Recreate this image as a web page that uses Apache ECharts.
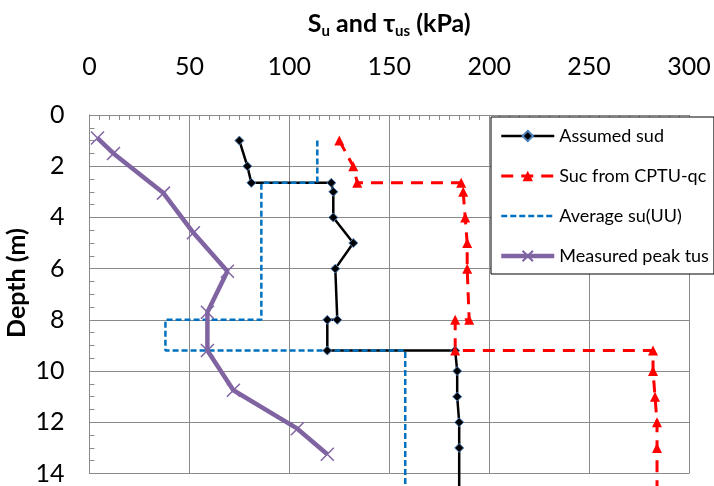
<!DOCTYPE html>
<html><head><meta charset="utf-8">
<script src="https://cdn.jsdelivr.net/npm/echarts@6/dist/echarts.min.js"></script>
<style>html,body{margin:0;padding:0;background:#fff}#c{width:714px;height:486px}</style>
</head><body><div id="c"></div>
<script>
// ---- data ----
const seriesNames = ['Assumed sud', 'Suc from CPTU-qc', 'Average su(UU)', 'Measured peak tus'];
const xTicks = [0, 50, 100, 150, 200, 250, 300];
const yTicks = [0, 2, 4, 6, 8, 10, 12, 14];

const assumedDepth = [1, 2, 2.65, 2.65, 3, 4, 5, 6, 8, 8, 9.2, 9.2, 10, 11, 12, 13, 14.8];
const assumedSu    = [75, 79, 81, 121, 122, 122, 132, 123, 124, 119, 119, 183, 184, 184, 185, 185, 185];

const sucDepth = [1, 2, 2.65, 2.65, 3, 4, 5, 6, 8, 8, 9.2, 9.2, 10, 11, 12, 13, 14.8];
const sucVal   = [125, 132, 134, 186, 187, 188, 189, 189, 190, 183, 183, 282, 282, 283, 284, 284, 284];

const avgDepth = [1, 2.65, 2.65, 8, 8, 9.2, 9.2, 14.8];
const avgVal   = [114, 114, 86, 86, 38, 38, 158, 158];

const measDepth = [0.9, 1.5, 3.05, 4.6, 6.1, 7.7, 9.2, 10.75, 12.25, 13.25];
const measVal   = [4, 12, 37, 52, 69, 59, 59, 72, 104, 119];

// ---- chart ----
const F = 'Lato';
const gray = '#8a8a8a';
const pair = (xs, ys) => xs.map((v, i) => [v, ys[i]]);
const chart = echarts.init(document.getElementById('c'), null, {renderer: 'canvas'});
const xPath = 'path://M0,0L10,10M10,0L0,10';

chart.setOption({
  animation: false,
  backgroundColor: '#fff',
  grid: {left: 89.5, right: 25, top: 115, bottom: 12},
  xAxis: {
    type: 'value', position: 'top',
    min: xTicks[0], max: xTicks[xTicks.length - 1], interval: xTicks[1] - xTicks[0],
    name: '{m|S}{s|u}{m| and τ}{s|us}{m| (kPa)}',
    nameLocation: 'middle', nameGap: 76,
    nameTextStyle: {
      rich: {
        m: {fontFamily: F, fontSize: 25, fontWeight: 'bold', color: '#000', lineHeight: 30},
        s: {fontFamily: F, fontSize: 15, fontWeight: 'bold', color: '#000', lineHeight: 14, verticalAlign: 'bottom'}
      }
    },
    axisLine: {show: true, onZero: false, lineStyle: {color: gray, width: 1}},
    axisTick: {show: true, inside: true, length: 5, lineStyle: {color: gray}},
    minorTick: {show: true, splitNumber: 10, length: 5, lineStyle: {color: gray}},
    splitLine: {show: true, lineStyle: {color: gray, width: 1}},
    axisLabel: {fontFamily: F, fontSize: 25, color: '#000', margin: 36}
  },
  yAxis: {
    type: 'value', inverse: true,
    min: yTicks[0], max: yTicks[yTicks.length - 1], interval: yTicks[1] - yTicks[0],
    axisLine: {show: true, onZero: false, lineStyle: {color: gray, width: 1}},
    axisTick: {show: true, inside: true, length: 5, lineStyle: {color: gray}},
    minorTick: {show: true, splitNumber: 4, length: 5, lineStyle: {color: gray}},
    splitLine: {show: true, lineStyle: {color: gray, width: 1}},
    axisLabel: {fontFamily: F, fontSize: 25, color: '#000', margin: 25}
  },
  graphic: [{
    type: 'text', x: 16.5, y: 283, rotation: Math.PI / 2,
    style: {text: 'Depth (m)', font: 'bold 25px Lato', fill: '#000', align: 'center', verticalAlign: 'middle'}
  }],
  legend: {
    orient: 'vertical', left: 491, top: 117,
    padding: [9, 5, 8, 8], itemGap: 20, itemWidth: 53, itemHeight: 13,
    backgroundColor: '#fff', borderColor: '#000', borderWidth: 1,
    textStyle: {fontFamily: F, fontSize: 18, color: '#000', lineHeight: 20},
    data: [
      {name: seriesNames[0], lineStyle: {width: 2.5}},
      {name: seriesNames[1], lineStyle: {width: 3}},
      {name: seriesNames[2], lineStyle: {width: 2.5}, itemStyle: {opacity: 0}},
      {name: seriesNames[3], lineStyle: {width: 4.5}}
    ]
  },
  series: [
    {
      name: seriesNames[0], type: 'line', clip: false, data: pair(assumedSu, assumedDepth),
      symbol: 'diamond', symbolSize: 9,
      lineStyle: {color: '#000', width: 2.5},
      itemStyle: {color: '#000', borderColor: '#4F81BD', borderWidth: 1}
    },
    {
      name: seriesNames[1], type: 'line', clip: false, data: pair(sucVal, sucDepth),
      symbol: 'triangle', symbolSize: 10,
      lineStyle: {color: '#FF0000', width: 3, type: [12, 8]},
      itemStyle: {color: '#FF0000'}
    },
    {
      name: seriesNames[2], type: 'line', clip: false, data: pair(avgVal, avgDepth),
      symbol: 'none',
      lineStyle: {color: '#0070C0', width: 2.5, type: [6, 3]},
      itemStyle: {color: '#0070C0'}
    },
    {
      name: seriesNames[3], type: 'line', clip: false, data: pair(measVal, measDepth),
      symbol: xPath, symbolSize: 13,
      lineStyle: {color: '#8064A2', width: 4.5},
      itemStyle: {color: '#8064A2', borderColor: '#8064A2', borderWidth: 1.5}
    }
  ]
});
</script></body></html>
